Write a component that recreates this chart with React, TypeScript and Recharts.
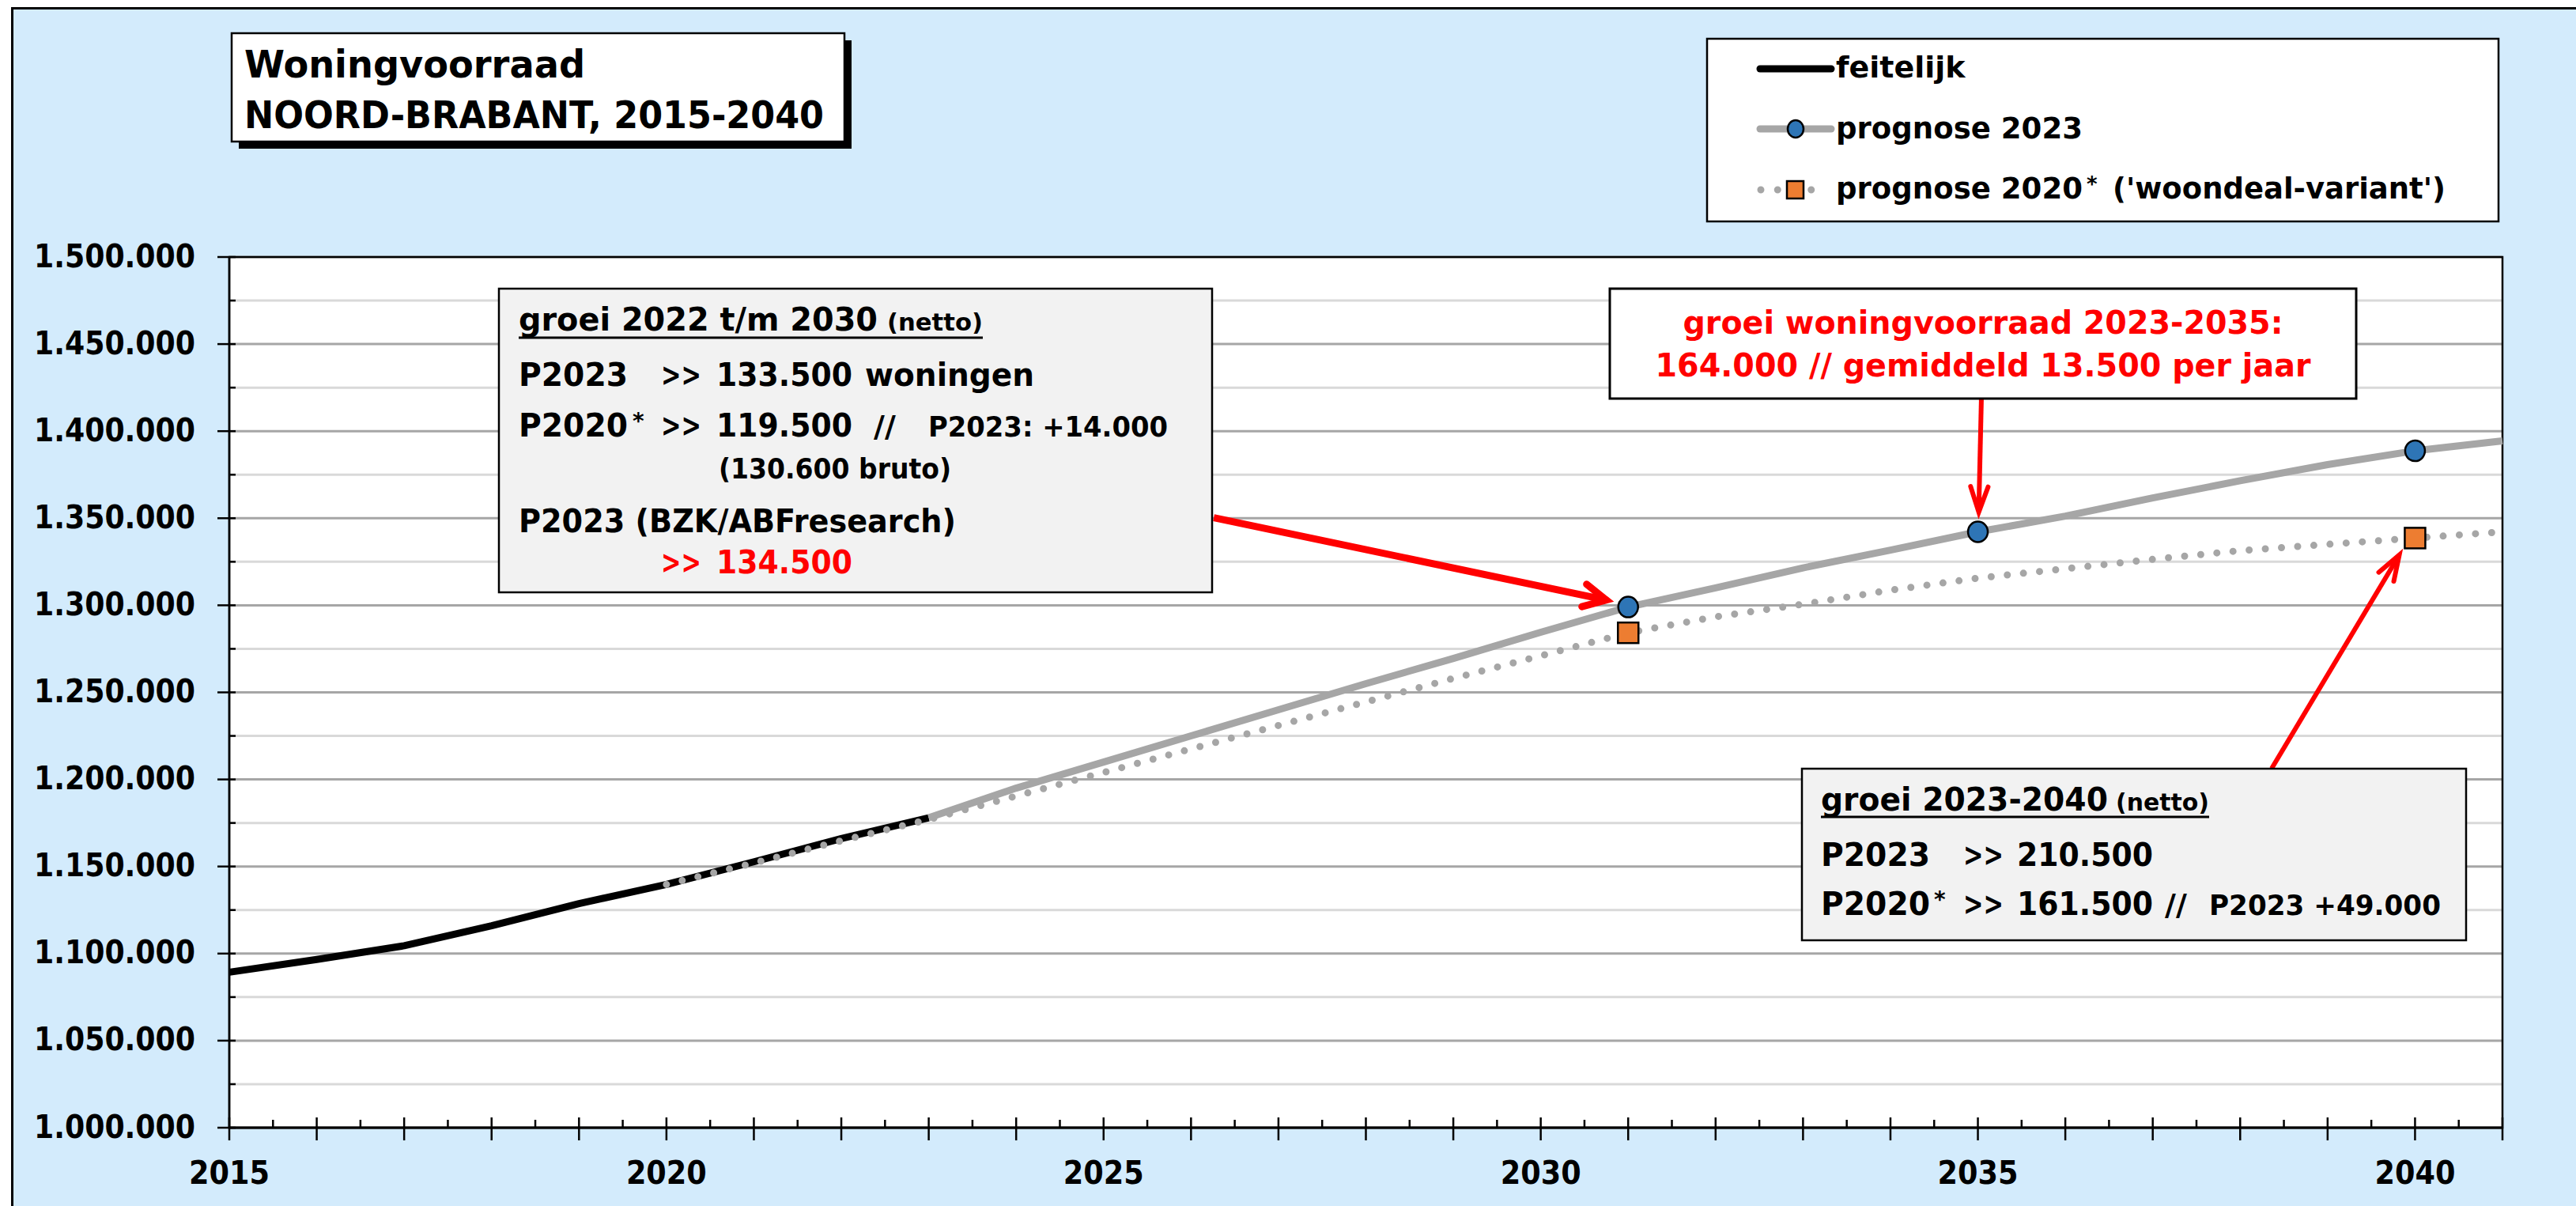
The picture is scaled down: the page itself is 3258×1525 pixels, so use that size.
import React from 'react';
import { LineChart, Line, XAxis, YAxis, CartesianGrid, ReferenceLine, ReferenceArea } from 'recharts';

const FONT = '"DejaVu Sans", "Liberation Sans", sans-serif';
const BLUE_BG = '#D3EBFC';
const GRAY = '#A6A6A6';
const RED = '#FF0000';
const MARKER_BLUE = '#2E75B6';
const MARKER_ORANGE = '#ED7D31';

// ---- data ----
const years = [2015, 2016, 2017, 2018, 2019, 2020, 2021, 2022, 2023, 2024, 2025, 2026, 2027, 2028, 2029, 2030, 2031, 2032, 2033, 2034, 2035, 2036, 2037, 2038, 2039, 2040, 2041];

const feitelijkStart = 2015;
const feitelijk = [1089300, 1096600, 1104500, 1116000, 1128700, 1139700, 1152700, 1166000, 1178000];

const prognose2023Start = 2023;
const prognose2023 = [1178000, 1195000, 1210000, 1225000, 1240000, 1255000, 1269500, 1284500, 1299000, 1310000, 1321500, 1331700, 1342200, 1351200, 1361700, 1371500, 1380800, 1388700, 1394400];

const prognose2020Start = 2020;
const prognose2020 = [1139700, 1152000, 1164800, 1177000, 1190500, 1204000, 1217500, 1231000, 1244500, 1258000, 1271000, 1284200, 1293400, 1300600, 1308700, 1315600, 1321000, 1326400, 1331400, 1335000, 1338600, 1342200];

const markerYears2023 = [2031, 2035, 2040];
const markerYears2020 = [2031, 2040];
const labeledYears = [2015, 2020, 2025, 2030, 2035, 2040];
const X_DOMAIN: [number, number] = [2015, 2041];
const Y_DOMAIN: [number, number] = [1000000, 1500000];

const seriesNames = {
  feitelijk: 'feitelijk',
  p2023: 'prognose 2023',
  p2020: 'prognose 2020',
  p2020suffix: " ('woondeal-variant')",
};

const valueAt = (arr: number[], start: number, year: number) => {
  const i = year - start;
  return i >= 0 && i < arr.length ? arr[i] : null;
};

const data = years.map((year) => ({
  year,
  feitelijk: valueAt(feitelijk, feitelijkStart, year),
  p2023: valueAt(prognose2023, prognose2023Start, year),
  p2020: valueAt(prognose2020, prognose2020Start, year),
}));

const xTicks: number[] = [];
for (let v = X_DOMAIN[0]; v <= X_DOMAIN[1]; v += 0.5) xTicks.push(v);
const yTicks: number[] = [];
for (let v = Y_DOMAIN[0]; v <= Y_DOMAIN[1]; v += 25000) yTicks.push(v);

// arrows in data coordinates
const arrows = [
  { from: { x: 2026.26, y: 1350300 }, to: { x: 2030.75, y: 1303000 }, width: 9, head: 32, angle: 27 },
  { from: { x: 2035.04, y: 1418900 }, to: { x: 2035.01, y: 1353500 }, width: 6, head: 34, angle: 19 },
  { from: { x: 2038.36, y: 1206300 }, to: { x: 2039.82, y: 1328900 }, width: 6, head: 34, angle: 19 },
];

const fmt = (v: number) => String(v).replace(/\B(?=(\d{3})+(?!\d))/g, '.');

// ---- axis ticks ----
const XTick = (props: any) => {
  const { x, y, payload } = props;
  const v = payload.value;
  const isYear = Math.abs(v - Math.round(v)) < 1e-6;
  const label = labeledYears.includes(Math.round(v)) && isYear;
  return (
    <g>
      {isYear ? (
        <line x1={x} x2={x} y1={y - 13} y2={y + 16} stroke="#000" strokeWidth={2.5} />
      ) : (
        <line x1={x} x2={x} y1={y - 10} y2={y} stroke="#000" strokeWidth={2.5} />
      )}
      {label && (
        <text
          x={x}
          y={y + 71}
          textAnchor="middle"
          fontFamily={FONT}
          fontWeight={700}
          fontSize={41}
          fill="#000"
          textLength={102}
          lengthAdjust="spacingAndGlyphs"
        >
          {Math.round(v)}
        </text>
      )}
    </g>
  );
};

const YTick = (props: any) => {
  const { x, y, payload } = props;
  const v = payload.value;
  const major = v % 50000 === 0;
  return (
    <g>
      {major ? (
        <line x1={x - 15} x2={x + 8} y1={y} y2={y} stroke="#000" strokeWidth={2.5} />
      ) : (
        <line x1={x} x2={x + 8} y1={y} y2={y} stroke="#000" strokeWidth={2.5} />
      )}
      {major && (
        <text
          x={x - 43}
          y={y + 12.5}
          textAnchor="end"
          fontFamily={FONT}
          fontWeight={700}
          fontSize={40}
          fill="#000"
          textLength={204}
          lengthAdjust="spacingAndGlyphs"
        >
          {fmt(v)}
        </text>
      )}
    </g>
  );
};

const gridLine = (p: any) => {
  const major = p.index % 2 === 0;
  return (
    <line
      key={`g-${p.index}`}
      x1={p.x1}
      x2={p.x2}
      y1={p.y1}
      y2={p.y2}
      stroke={major ? GRAY : '#D9D9D9'}
      strokeWidth={3}
    />
  );
};

const circleDot = (p: any) => {
  const show = p.payload && markerYears2023.includes(p.payload.year) && p.cy != null;
  if (!show) return <g key={`c-${p.index}`} />;
  return <ellipse key={`c-${p.index}`} cx={p.cx} cy={p.cy} rx={12.5} ry={13} fill={MARKER_BLUE} stroke="#000" strokeWidth={2.5} />;
};

const squareDot = (p: any) => {
  const show = p.payload && markerYears2020.includes(p.payload.year) && p.cy != null;
  if (!show) return <g key={`s-${p.index}`} />;
  return (
    <rect key={`s-${p.index}`} x={p.cx - 13} y={p.cy - 13} width={26} height={26} fill={MARKER_ORANGE} stroke="#000" strokeWidth={2.5} strokeDasharray="none" />
  );
};

const arrowShape = (w: number, head: number, angleDeg: number) => (p: any) => {
  const x1 = Number(p.x1), y1 = Number(p.y1), x2 = Number(p.x2), y2 = Number(p.y2);
  const dx = x2 - x1, dy = y2 - y1;
  const len = Math.hypot(dx, dy) || 1;
  const bx = -dx / len, by = -dy / len;
  const a = (angleDeg * Math.PI) / 180;
  const r1 = { x: bx * Math.cos(a) - by * Math.sin(a), y: bx * Math.sin(a) + by * Math.cos(a) };
  const r2 = { x: bx * Math.cos(-a) - by * Math.sin(-a), y: bx * Math.sin(-a) + by * Math.cos(-a) };
  return (
    <g>
      <line x1={x1} y1={y1} x2={x2 + bx * 2} y2={y2 + by * 2} stroke={RED} strokeWidth={w} />
      <path
        d={`M${x2 + r1.x * head},${y2 + r1.y * head} L${x2},${y2} L${x2 + r2.x * head},${y2 + r2.y * head}`}
        fill="none"
        stroke={RED}
        strokeWidth={w}
        strokeLinecap="round"
        strokeLinejoin="miter"
      />
    </g>
  );
};

const T = (props: any) => {
  const { x, y, size = 40, fill = '#000', anchor = 'start', len, children } = props;
  return (
    <text
      x={x}
      y={y}
      fontSize={size}
      fontFamily={FONT}
      fontWeight={700}
      fill={fill}
      textAnchor={anchor}
      textLength={len}
      lengthAdjust={len ? 'spacingAndGlyphs' : undefined}
    >
      {children}
    </text>
  );
};

const Overlay = () => (
  <svg width={3258} height={1525} style={{ position: 'absolute', left: 0, top: 0, pointerEvents: 'none' }}>
    {/* title */}
    <rect x={302} y={51} width={775} height={137} fill="#000" />
    <rect x={293} y={42} width={775} height={137} fill="#fff" stroke="#000" strokeWidth={2.5} />
    <T x={309} y={98} size={48} len={431}>Woningvoorraad</T>
    <T x={309} y={162} size={48} len={733}>NOORD-BRABANT, 2015-2040</T>

    {/* legend */}
    <rect x={2159} y={49} width={1001} height={231} fill="#fff" stroke="#000" strokeWidth={2.5} />
    <line x1={2226} x2={2316} y1={87} y2={87} stroke="#000" strokeWidth={9} strokeLinecap="round" />
    <T x={2322} y={98} size={38}>{seriesNames.feitelijk}</T>
    <line x1={2226} x2={2316} y1={163} y2={163} stroke={GRAY} strokeWidth={9} strokeLinecap="round" />
    <ellipse cx={2271} cy={163} rx={10} ry={11} fill={MARKER_BLUE} stroke="#000" strokeWidth={2.5} />
    <T x={2322} y={175} size={38} len={312}>{seriesNames.p2023}</T>
    <line x1={2227} x2={2312} y1={240} y2={240} stroke={GRAY} strokeWidth={9} strokeLinecap="round" strokeDasharray="0 21.25" />
    <rect x={2260} y={229} width={21} height={22} fill={MARKER_ORANGE} stroke="#000" strokeWidth={2.5} />
    <T x={2322} y={251} size={38} len={312}>{seriesNames.p2020}</T>
    <T x={2639} y={242} size={26}>*</T>
    <T x={2672} y={251} size={38} len={421}>{seriesNames.p2020suffix}</T>

    {/* box 1 */}
    <rect x={631} y={365} width={902} height={384} fill="#F2F2F2" stroke="#000" strokeWidth={2.5} />
    <T x={656} y={418} size={41} len={454}>groei 2022 t/m 2030</T>
    <T x={1122} y={418} size={31} len={121}>(netto)</T>
    <line x1={656} x2={1243} y1={427} y2={427} stroke="#000" strokeWidth={3} />
    <T x={656} y={488} size={41} len={138}>P2023</T>
    <T x={836} y={488} size={41} len={51}>&gt;&gt;</T>
    <T x={906} y={488} size={41} len={172}>133.500</T>
    <T x={1094} y={488} size={41} len={214}>woningen</T>
    <T x={656} y={552} size={41} len={138}>P2020</T>
    <T x={800} y={542} size={28}>*</T>
    <T x={836} y={552} size={41} len={51}>&gt;&gt;</T>
    <T x={906} y={552} size={41} len={172}>119.500</T>
    <T x={1105} y={552} size={38}>//</T>
    <T x={1174} y={552} size={36} len={303}>P2023: +14.000</T>
    <T x={909} y={605} size={36} len={294}>(130.600 bruto)</T>
    <T x={656} y={673} size={41} len={553}>P2023 (BZK/ABFresearch)</T>
    <T x={836} y={725} size={41} len={51} fill={RED}>&gt;&gt;</T>
    <T x={906} y={725} size={41} len={172} fill={RED}>134.500</T>

    {/* box 2 */}
    <rect x={2036} y={365} width={944} height={139} fill="#fff" stroke="#000" strokeWidth={3} />
    <T x={2508} y={422} size={40} fill={RED} anchor="middle" len={759}>groei woningvoorraad 2023-2035:</T>
    <T x={2508} y={476} size={40} fill={RED} anchor="middle" len={829}>164.000 // gemiddeld 13.500 per jaar</T>

    {/* box 3 */}
    <rect x={2279} y={972} width={840} height={217} fill="#F2F2F2" stroke="#000" strokeWidth={2.5} />
    <T x={2303} y={1025} size={41} len={363}>groei 2023-2040</T>
    <T x={2676} y={1025} size={31} len={118}>(netto)</T>
    <line x1={2303} x2={2794} y1={1033} y2={1033} stroke="#000" strokeWidth={3} />
    <T x={2303} y={1095} size={41} len={138}>P2023</T>
    <T x={2483} y={1095} size={41} len={51}>&gt;&gt;</T>
    <T x={2551} y={1095} size={41} len={172}>210.500</T>
    <T x={2303} y={1157} size={41} len={138}>P2020</T>
    <T x={2446} y={1147} size={28}>*</T>
    <T x={2483} y={1157} size={41} len={51}>&gt;&gt;</T>
    <T x={2551} y={1157} size={41} len={172}>161.500</T>
    <T x={2738} y={1157} size={38}>//</T>
    <T x={2794} y={1157} size={36} len={293}>P2023  +49.000</T>
  </svg>
);

export default function App() {
  return (
    <div style={{ position: 'absolute', left: 0, top: 0, width: 3258, height: 1525, background: '#fff', overflow: 'hidden' }}>
      <div
        style={{
          position: 'absolute',
          left: 14,
          top: 9,
          width: 3400,
          height: 1700,
          background: BLUE_BG,
          border: '3px solid #000',
          boxSizing: 'border-box',
        }}
      />
      <div style={{ position: 'absolute', left: 0, top: 0 }}>
        <LineChart width={3258} height={1525} data={data} margin={{ top: 325, right: 93, bottom: 0, left: 0 }}>
          <CartesianGrid vertical={false} horizontal={gridLine} fill="#fff" />
          <XAxis
            type="number"
            dataKey="year"
            domain={X_DOMAIN}
            ticks={xTicks}
            interval={0}
            allowDecimals
            tickLine={false}
            tickSize={0}
            tickMargin={0}
            axisLine={{ stroke: '#000', strokeWidth: 3 }}
            tick={<XTick />}
            height={99}
          />
          <YAxis
            type="number"
            domain={Y_DOMAIN}
            ticks={yTicks}
            interval={0}
            tickLine={false}
            tickSize={0}
            tickMargin={0}
            axisLine={{ stroke: '#000', strokeWidth: 2.5 }}
            tick={<YTick />}
            width={290}
          />
          <ReferenceArea
            x1={X_DOMAIN[0]}
            x2={X_DOMAIN[1]}
            y1={Y_DOMAIN[0]}
            y2={Y_DOMAIN[1]}
            fill="none"
            fillOpacity={0}
            stroke="#000"
            strokeWidth={2.5}
            ifOverflow="visible"
          />
          <Line
            name={seriesNames.feitelijk}
            dataKey="feitelijk"
            stroke="#000"
            strokeWidth={9}
            dot={false}
            activeDot={false}
            isAnimationActive={false}
            strokeLinejoin="round"
          />
          <Line
            name={seriesNames.p2023}
            dataKey="p2023"
            stroke={GRAY}
            strokeWidth={9}
            dot={circleDot}
            activeDot={false}
            isAnimationActive={false}
            strokeLinejoin="round"
          />
          <Line
            name={seriesNames.p2020}
            dataKey="p2020"
            stroke={GRAY}
            strokeWidth={9}
            strokeDasharray="0 20.5"
            strokeLinecap="round"
            dot={squareDot}
            activeDot={false}
            isAnimationActive={false}
          />
          {arrows.map((a, i) => (
            <ReferenceLine
              key={`arrow-${i}`}
              segment={[a.from, a.to]}
              ifOverflow="visible"
              stroke={RED}
              shape={arrowShape(a.width, a.head, a.angle)}
            />
          ))}
        </LineChart>
      </div>
      <Overlay />
    </div>
  );
}
